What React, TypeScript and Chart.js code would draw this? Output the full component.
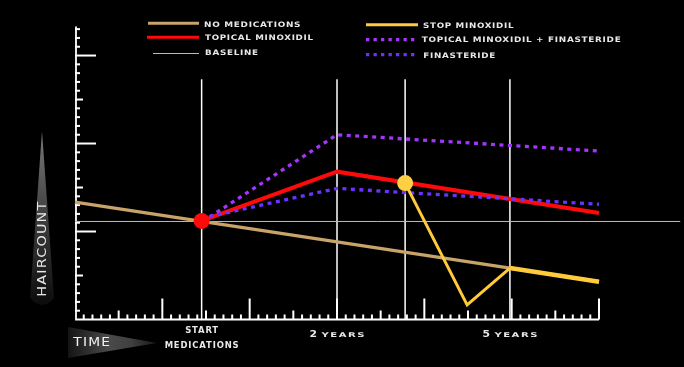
import React, { useEffect, useRef } from 'react';
import { Chart, registerables } from 'chart.js';

Chart.register(...registerables);

// ---- data (time units on x, haircount units on y) ----
const X_MAX = 60;
const Y_MAX = 33.3;
const GRID_TOP = 27.3;
const eventTimes = [14.5, 30, 37.8, 49.8];

const noMedX = [0, 60];
const noMedY = [13.35, 4.3];

const topicalX = [14.5, 30, 60];
const topicalY = [11.2, 16.8, 12.1];

const stopX = [37.8, 44.9, 49.8, 60];
const stopY = [15.5, 1.65, 5.85, 4.3];

const comboX = [15.4, 30, 60];
const comboY = [11.65, 21.0, 19.15];

const finX = [15.4, 30, 60];
const finY = [11.7, 14.9, 13.1];

const baselineX = [0, 69.3];
const baselineY = [11.14, 11.14];

const seriesNames = [
  'NO MEDICATIONS',
  'TOPICAL MINOXIDIL',
  'BASELINE',
  'STOP MINOXIDIL',
  'TOPICAL MINOXIDIL + FINASTERIDE',
  'FINASTERIDE',
];
const timeLabelTimes = [14.5, 30, 49.8];
const yAxisTitle = 'HAIRCOUNT';
const xAxisTitle = 'TIME';

// ---- styles ----
const TAN = '#c8a36a';
const RED = '#ff0a0a';
const YELLOW = '#ffcb3a';
const PURPLE = '#a236ff';
const VIOLET = '#6a32ff';
const BLUE = '#a4bdf0';
const TEXT = '#e8e8e8';

const pts = (xs: number[], ys: number[]) => xs.map((x, i) => ({ x, y: ys[i] }));

function fitText(ctx: CanvasRenderingContext2D, text: string, x: number, yBase: number, size: number, width: number, spacing = 0.6, weight = 'bold') {
  ctx.save();
  ctx.font = `${weight} ${size}px "DejaVu Sans"`;
  (ctx as any).letterSpacing = `${spacing}px`;
  const natural = ctx.measureText(text).width - spacing;
  const sx = width / natural;
  ctx.translate(x, yBase);
  ctx.scale(sx, 1);
  ctx.textAlign = 'left';
  ctx.textBaseline = 'alphabetic';
  ctx.fillText(text, 0, 0);
  ctx.restore();
}

const decor = {
  id: 'decor',
  beforeDraw(chart: any) {
    const { ctx, width, height } = chart;
    ctx.save();
    ctx.fillStyle = '#000';
    ctx.fillRect(0, 0, width, height);
    ctx.restore();
  },
  beforeDatasetsDraw(chart: any) {
    const { ctx, chartArea: a, scales } = chart;
    const xs = scales.x;
    const ys = scales.y;
    ctx.save();
    // event gridlines
    ctx.strokeStyle = '#ffffff';
    ctx.lineWidth = 1.5;
    const gTop = ys.getPixelForValue(GRID_TOP);
    eventTimes.forEach((t) => {
      const px = xs.getPixelForValue(t);
      ctx.beginPath();
      ctx.moveTo(px, gTop);
      ctx.lineTo(px, a.bottom);
      ctx.stroke();
    });
    // axes lines
    ctx.lineWidth = 1.8;
    ctx.beginPath();
    ctx.moveTo(a.left + 1, a.top);
    ctx.lineTo(a.left + 1, a.bottom);
    ctx.lineTo(a.right, a.bottom);
    ctx.stroke();
    // y ticks
    ctx.lineWidth = 2;
    for (let i = 1; i <= Math.floor(Y_MAX); i++) {
      const py = ys.getPixelForValue(i);
      const len = i % 10 === 0 ? 21 : i % 5 === 0 ? 8 : 5;
      ctx.beginPath();
      ctx.moveTo(a.left, py);
      ctx.lineTo(a.left + len, py);
      ctx.stroke();
    }
    // x ticks
    for (let i = 1; i <= X_MAX; i++) {
      const px = xs.getPixelForValue(i);
      const len = i % 10 === 0 ? 21 : i % 5 === 0 ? 9 : 5;
      ctx.beginPath();
      ctx.moveTo(px, a.bottom);
      ctx.lineTo(px, a.bottom - len);
      ctx.stroke();
    }
    ctx.restore();
  },
  afterDraw(chart: any) {
    const { ctx, scales } = chart;
    const xs = scales.x;
    ctx.save();

    // ---- legend ----
    const line = (x1: number, x2: number, y: number, color: string, w: number, dash: number[] = []) => {
      ctx.save();
      ctx.strokeStyle = color;
      ctx.lineWidth = w;
      ctx.setLineDash(dash);
      ctx.beginPath();
      ctx.moveTo(x1, y);
      ctx.lineTo(x2, y);
      ctx.stroke();
      ctx.restore();
    };
    line(148, 199, 23.3, TAN, 3);
    line(147, 199, 37.3, RED, 3);
    line(153, 199, 53.5, BLUE, 1);
    line(366, 418, 24.7, YELLOW, 3);
    line(366, 418, 39.7, PURPLE, 3.3, [3.3, 4.2]);
    line(366, 418, 54.7, VIOLET, 3.3, [3.3, 4.2]);

    ctx.fillStyle = TEXT;
    const fs = 7.5;
    const cap = fs * 0.365;
    fitText(ctx, seriesNames[0], 204, 24.7 + cap, fs, 96.5);
    fitText(ctx, seriesNames[1], 205, 37.2 + cap, fs, 108);
    fitText(ctx, seriesNames[2], 205, 52.5 + cap, fs, 53);
    fitText(ctx, seriesNames[3], 423, 25.3 + cap, fs, 90.5);
    fitText(ctx, seriesNames[4], 421.7, 39.5 + cap, fs, 199);
    fitText(ctx, seriesNames[5], 423.3, 55.2 + cap, fs, 72);

    // ---- y axis title with spike ----
    const spike = ctx.createLinearGradient(0, 131, 0, 308);
    spike.addColorStop(0, '#7a7a7a');
    spike.addColorStop(0.45, '#434343');
    spike.addColorStop(1, '#0a0a0a');
    ctx.fillStyle = spike;
    ctx.beginPath();
    ctx.moveTo(42, 131);
    ctx.lineTo(54, 298);
    ctx.quadraticCurveTo(42, 312, 30, 298);
    ctx.closePath();
    ctx.fill();

    ctx.save();
    ctx.translate(46.3, 296.7);
    ctx.rotate(-Math.PI / 2);
    ctx.fillStyle = TEXT;
    fitText(ctx, yAxisTitle, 0, 0, 12, 95, 1, 'normal');
    ctx.restore();

    // ---- x axis title with arrow ----
    const arr = ctx.createLinearGradient(68, 0, 158, 0);
    arr.addColorStop(0, '#141414');
    arr.addColorStop(0.45, '#4a4a4a');
    arr.addColorStop(0.7, '#404040');
    arr.addColorStop(1, '#161616');
    ctx.fillStyle = arr;
    ctx.beginPath();
    ctx.moveTo(68, 327);
    ctx.lineTo(157, 343);
    ctx.lineTo(68, 358);
    ctx.closePath();
    ctx.fill();

    ctx.fillStyle = '#f2f2f2';
    fitText(ctx, xAxisTitle, 73.3, 341.6 + 11.5 * 0.365, 11.5, 36.7, 1, 'normal');

    // ---- time labels ----
    ctx.fillStyle = TEXT;
    const sx = xs.getPixelForValue(timeLabelTimes[0]);
    fitText(ctx, 'START', sx - 16.5, 330.3 + 8 * 0.365, 8, 33, 0.8);
    fitText(ctx, 'MEDICATIONS', sx - 37, 345 + 8 * 0.365, 8, 74, 0.8);

    const yearLabel = (t: number, num: string) => {
      const c = xs.getPixelForValue(t);
      const left = c - 27.5;
      fitText(ctx, num, left, 337.3, 8.6, 7.5, 0, 'bold');
      fitText(ctx, 'YEARS', left + 12, 337.3, 6.5, 43, 1);
    };
    yearLabel(timeLabelTimes[1], '2');
    yearLabel(timeLabelTimes[2], '5');

    ctx.restore();
  },
};

export default function App() {
  const ref = useRef<HTMLCanvasElement>(null);
  useEffect(() => {
    document.body.style.margin = '0';
    document.body.style.background = '#000';
    const chart = new Chart(ref.current as HTMLCanvasElement, {
      type: 'line',
      data: {
        datasets: [
          {
            label: seriesNames[3],
            data: pts(stopX, stopY),
            borderColor: YELLOW,
            backgroundColor: YELLOW,
            borderWidth: 3,
            segment: { borderWidth: (c: any) => (c.p0DataIndex === 2 ? 4.5 : 3) },
            pointRadius: [8, 0, 0, 0],
            pointBorderWidth: 0,
            pointBackgroundColor: '#ffcf45',
          } as any,
          {
            label: seriesNames[5],
            data: pts(finX, finY),
            borderColor: VIOLET,
            borderWidth: 3.3,
            borderDash: [4, 4.5],
            borderCapStyle: 'butt',
            pointRadius: 0,
          },
          {
            label: seriesNames[4],
            data: pts(comboX, comboY),
            borderColor: PURPLE,
            borderWidth: 3.3,
            borderDash: [4, 4.5],
            borderCapStyle: 'butt',
            pointRadius: 0,
          },
          {
            label: seriesNames[1],
            data: pts(topicalX, topicalY),
            borderColor: RED,
            backgroundColor: RED,
            borderWidth: 4,
            pointRadius: [8, 0, 0],
            pointBorderWidth: 0,
            pointBackgroundColor: RED,
          } as any,
          {
            label: seriesNames[0],
            data: pts(noMedX, noMedY),
            borderColor: TAN,
            borderWidth: 3.3,
            pointRadius: 0,
          },
          {
            label: seriesNames[2],
            data: pts(baselineX, baselineY),
            borderColor: BLUE,
            borderWidth: 1,
            pointRadius: 0,
          },
        ].map((d: any) => ({ ...d, clip: false, tension: 0, fill: false })),
      },
      options: {
        animation: false,
        responsive: false,
        devicePixelRatio: 1,
        layout: { padding: { left: 75, right: 85, top: 26.5, bottom: 47.5 } },
        scales: {
          x: { type: 'linear', min: 0, max: X_MAX, display: false },
          y: { type: 'linear', min: 0, max: Y_MAX, display: false },
        },
        plugins: {
          legend: { display: false },
          tooltip: { enabled: false },
          title: { display: false },
        },
      },
      plugins: [decor],
    } as any);
    return () => chart.destroy();
  }, []);
  return (
    <div style={{ width: 684, height: 367, background: '#000' }}>
      <canvas ref={ref} width={684} height={367} style={{ display: 'block' }} />
    </div>
  );
}
